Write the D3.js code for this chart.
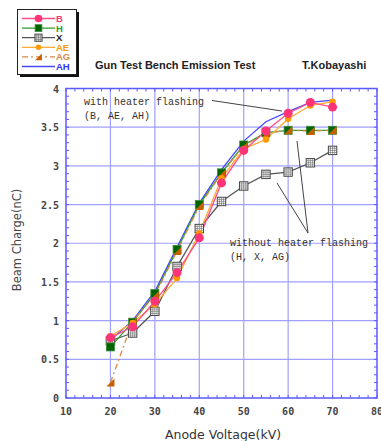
<!DOCTYPE html>
<html>
<head>
<meta charset="utf-8">
<script src="https://cdn.jsdelivr.net/npm/d3@7"></script>
<style>
  body { margin: 0; background: #fff; }
  svg { display: block; }
</style>
</head>
<body>
<div id="chart"></div>
<script>
// anode voltage (kV)
const voltages = [20, 25, 30, 35, 40, 45, 50, 55, 60, 65, 70];

// beam charge (nC) per gun
const valsB  = [0.78, 0.92, 1.25, 1.62, 2.07, 2.78, 3.20, 3.45, 3.68, 3.82, 3.76];
const valsH  = [0.66, 0.98, 1.35, 1.92, 2.50, 2.91, 3.27, 3.43, 3.46, 3.46, 3.46];
const valsX  = [0.74, 0.84, 1.12, 1.70, 2.19, 2.54, 2.74, 2.89, 2.92, 3.04, 3.20];
const valsAE = [0.80, 0.97, 1.21, 1.55, 2.13, 2.84, 3.22, 3.34, 3.61, 3.78, 3.83];
const valsAG = [0.20, 0.99, 1.33, 1.90, 2.48, 2.90, 3.26, 3.42, 3.46, 3.45, 3.46];
const valsAH = [0.75, 1.00, 1.38, 1.95, 2.52, 2.95, 3.32, 3.57, 3.70, 3.82, 3.85];

const xTicks = [10, 20, 30, 40, 50, 60, 70, 80];
const yTicks = [0, 0.5, 1, 1.5, 2, 2.5, 3, 3.5, 4];

const W = 381, H = 441;
const svg = d3.select("#chart").append("svg").attr("width", W).attr("height", H);

const pLeft = 66, pRight = 377, pTop = 88.5, pBottom = 398;
const x = d3.scaleLinear().domain([10, 80]).range([pLeft, pRight]);
const y = d3.scaleLinear().domain([0, 4]).range([pBottom, pTop]);

const gridColor = "#a0a0ff";
const frameColor = "#5a5aff";

// grid
svg.append("g").selectAll("line").data(xTicks.slice(1, -1)).join("line")
    .attr("x1", d => x(d)).attr("x2", d => x(d))
    .attr("y1", pTop).attr("y2", pBottom)
    .attr("stroke", gridColor).attr("stroke-width", 1.2);
svg.append("g").selectAll("line").data(yTicks.slice(1, -1)).join("line")
    .attr("y1", d => y(d)).attr("y2", d => y(d))
    .attr("x1", pLeft).attr("x2", pRight)
    .attr("stroke", gridColor).attr("stroke-width", 1.2);

// minor ticks, inward on all sides
const xMinor = d3.range(10, 80.01, 2);
const yMinor = d3.range(0, 4.001, 0.1);
const ticks = svg.append("g").attr("stroke", frameColor).attr("stroke-width", 1);
xMinor.forEach(v => {
    ticks.append("line").attr("x1", x(v)).attr("x2", x(v)).attr("y1", pBottom).attr("y2", pBottom - 3);
    ticks.append("line").attr("x1", x(v)).attr("x2", x(v)).attr("y1", pTop).attr("y2", pTop + 3);
});
yMinor.forEach(v => {
    ticks.append("line").attr("y1", y(v)).attr("y2", y(v)).attr("x1", pLeft).attr("x2", pLeft + 3);
    ticks.append("line").attr("y1", y(v)).attr("y2", y(v)).attr("x1", pRight).attr("x2", pRight - 3);
});

// frame
svg.append("rect").attr("x", pLeft).attr("y", pTop)
    .attr("width", pRight - pLeft).attr("height", pBottom - pTop)
    .attr("fill", "none").attr("stroke", frameColor).attr("stroke-width", 1.5);

// tick labels
const tickFont = "'DejaVu Sans Mono', monospace";
svg.append("g").selectAll("text").data(xTicks).join("text")
    .attr("x", d => x(d)).attr("y", 415)
    .attr("text-anchor", "middle")
    .attr("font-family", tickFont).attr("font-size", 10).attr("font-weight", "bold")
    .attr("fill", "#444")
    .text(d => d);
svg.append("g").selectAll("text").data(yTicks).join("text")
    .attr("x", 59).attr("y", d => y(d) + 4)
    .attr("text-anchor", "end")
    .attr("font-family", tickFont).attr("font-size", 10).attr("font-weight", "bold")
    .attr("fill", "#444")
    .text(d => d);

// axis titles
svg.append("text").attr("x", 223).attr("y", 439)
    .attr("text-anchor", "middle")
    .attr("font-family", "'DejaVu Sans', sans-serif").attr("font-size", 12.5)
    .attr("fill", "#333").text("Anode Voltage(kV)");
svg.append("text")
    .attr("transform", "translate(21,240) rotate(-90)")
    .attr("text-anchor", "middle")
    .attr("font-family", "'DejaVu Sans', sans-serif").attr("font-size", 11.5)
    .attr("fill", "#444").text("Beam Charge(nC)");

// titles
svg.append("text").attr("x", 95).attr("y", 69)
    .attr("font-family", "'Liberation Sans', Arial, sans-serif").attr("font-size", 11)
    .attr("font-weight", "bold").attr("fill", "#222")
    .text("Gun Test Bench Emission Test");
svg.append("text").attr("x", 302).attr("y", 69)
    .attr("font-family", "'Liberation Sans', Arial, sans-serif").attr("font-size", 11)
    .attr("font-weight", "bold").attr("fill", "#222")
    .text("T.Kobayashi");

// series definitions
const series = [
    { name: "AH", vals: valsAH, line: "#4848ff", marker: "none" },
    { name: "X",  vals: valsX,  line: "#555555", marker: "box" },
    { name: "H",  vals: valsH,  line: "#2f9a2f", marker: "square", fill: "#006400" },
    { name: "AG", vals: valsAG, line: "#d9894a", marker: "tri", fill: "#c65f00", dash: "6,3,2,3" },
    { name: "AE", vals: valsAE, line: "#ffaa33", marker: "dot", fill: "#ff9900" },
    { name: "B",  vals: valsB,  line: "#ff4d88", marker: "circle", fill: "#ff3377" }
];

const lineGen = d3.line().x(d => x(d[0])).y(d => y(d[1]));

function marker(g, sr, cx, cy, k) {
    if (sr.marker === "circle") {
        g.append("circle").attr("cx", cx).attr("cy", cy).attr("r", 4.5 * k).attr("fill", sr.fill);
    } else if (sr.marker === "dot") {
        g.append("circle").attr("cx", cx).attr("cy", cy).attr("r", 3.2 * k).attr("fill", sr.fill);
    } else if (sr.marker === "square") {
        const h = 4 * k;
        g.append("rect").attr("x", cx - h).attr("y", cy - h).attr("width", 2 * h).attr("height", 2 * h)
            .attr("fill", sr.fill).attr("stroke", "#3a8a3a").attr("stroke-width", 0.8);
    } else if (sr.marker === "tri") {
        const h = 4 * k;
        g.append("path")
            .attr("d", `M${cx + h},${cy - h}L${cx + h},${cy + h}L${cx - h},${cy + h}Z`)
            .attr("fill", sr.fill);
    } else if (sr.marker === "box") {
        const h = 4.2 * k;
        g.append("rect").attr("x", cx - h).attr("y", cy - h).attr("width", 2 * h).attr("height", 2 * h)
            .attr("fill", "#fff").attr("stroke", "#444").attr("stroke-width", 1);
        g.append("path")
            .attr("d", `M${cx - h},${cy}H${cx + h}M${cx},${cy - h}V${cy + h}M${cx - h / 2},${cy - h}V${cy + h}M${cx + h / 2},${cy - h}V${cy + h}M${cx - h},${cy - h / 2}H${cx + h}M${cx - h},${cy + h / 2}H${cx + h}`)
            .attr("stroke", "#666").attr("stroke-width", 0.6);
    }
}

const plot = svg.append("g");
series.forEach(sr => {
    const pts = voltages.map((v, i) => [v, sr.vals[i]]);
    plot.append("path").datum(pts)
        .attr("d", lineGen)
        .attr("fill", "none")
        .attr("stroke", sr.line)
        .attr("stroke-width", 1.3)
        .attr("stroke-dasharray", sr.dash || null);
});
series.forEach(sr => {
    voltages.forEach((v, i) => marker(plot, sr, x(v), y(sr.vals[i]), 1));
});

// annotations
const monoFont = "'Liberation Mono', 'DejaVu Sans Mono', monospace";
const ann = svg.append("g").attr("font-family", monoFont).attr("font-size", 10).attr("fill", "#333");
ann.append("text").attr("x", 84).attr("y", 105).text("with heater flashing");
ann.append("text").attr("x", 84).attr("y", 119).text("(B, AE, AH)");
ann.append("text").attr("x", 230).attr("y", 246).text("without heater flashing");
ann.append("text").attr("x", 230).attr("y", 260).text("(H, X, AG)");

const pointer = svg.append("g").attr("stroke", "#444").attr("stroke-width", 1);
pointer.append("line").attr("x1", 212).attr("y1", 100.5).attr("x2", 282).attr("y2", 111);
pointer.append("line").attr("x1", 297).attr("y1", 141).attr("x2", 308).attr("y2", 233);
pointer.append("line").attr("x1", 277).attr("y1", 183).attr("x2", 308).attr("y2", 233);

// legend
const legendNames = ["B", "H", "X", "AE", "AG", "AH"];
const legendColors = { B: "#ff3377", H: "#2f9a2f", X: "#222", AE: "#ff9900", AG: "#d9894a", AH: "#3333ff" };
const lg = svg.append("g");
lg.append("rect").attr("x", 20).attr("y", 12).attr("width", 59).attr("height", 65).attr("fill", "#111");
lg.append("rect").attr("x", 17.5).attr("y", 9.5).attr("width", 59).attr("height", 65)
    .attr("fill", "#fff").attr("stroke", "#222").attr("stroke-width", 1);
legendNames.forEach((n, i) => {
    const sr = series.find(s => s.name === n);
    const ly = 18.5 + i * 9.6;
    lg.append("line").attr("x1", 22).attr("x2", 55).attr("y1", ly).attr("y2", ly)
        .attr("stroke", sr.line).attr("stroke-width", 1.3)
        .attr("stroke-dasharray", sr.dash || null);
    marker(lg, sr, 38.5, ly, 0.85);
    lg.append("text").attr("x", 56).attr("y", ly + 3.5)
        .attr("font-family", "'Liberation Sans', Arial, sans-serif").attr("font-size", 9.5)
        .attr("font-weight", "bold").attr("fill", legendColors[n]).text(n);
});
</script>
</body>
</html>
